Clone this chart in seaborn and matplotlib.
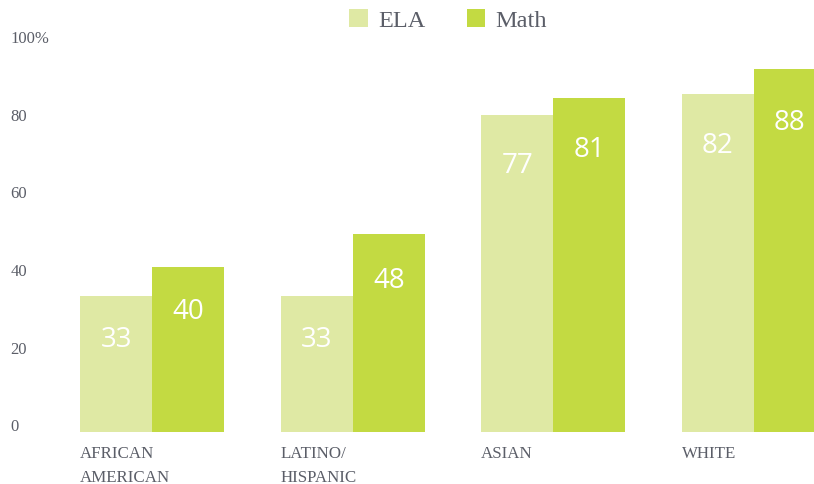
import matplotlib
matplotlib.use("Agg")
import matplotlib.pyplot as plt
import seaborn as sns
import pandas as pd
import numpy as np
from matplotlib.patches import Patch

categories = ["AFRICAN\nAMERICAN", "LATINO/\nHISPANIC", "ASIAN", "WHITE"]
ela = [33, 33, 77, 82]
math_vals = [40, 48, 81, 88]
series = ["ELA", "Math"]
ytick_labels = ["0", "20", "40", "60", "80", "100%"]

c_ela = "#dfe9a4"
c_math = "#c3da42"
grey = "#5b5e68"

df = pd.DataFrame({
    "cat": categories * 2,
    "series": ["ELA"] * 4 + ["Math"] * 4,
    "val": ela + math_vals,
})

sns.set_theme(style="white")
plt.rcParams["font.family"] = ["Liberation Serif", "DejaVu Serif"]

fig = plt.figure(figsize=(8.14, 4.85), dpi=100)
W, H = 814, 485
left_px, right_px, top_px, bottom_px = 70, 814, 21, 433
ax = fig.add_axes([left_px / W, 1 - bottom_px / H, (right_px - left_px) / W, (bottom_px - top_px) / H])

sns.barplot(data=df, x="cat", y="val", hue="series", order=categories,
            hue_order=series, palette=[c_ela, c_math], width=0.72,
            saturation=1, ax=ax, legend=False)

for p in ax.patches:
    p.set_linewidth(0)

ax.set_ylim(0, 100)
ax.set_xlim(-0.41, 3.30)

# value labels
bw = 0.36
for i, (a, b) in enumerate(zip(ela, math_vals)):
    for x, v in ((i - bw / 2, a), (i + bw / 2, b)):
        ax.text(x, 0.958 * v - 9.0, str(v), ha="center", va="center", color="white",
                fontsize=20, family=["Open Sans", "DejaVu Sans"])

# y ticks (labels)
ytick_pos = np.linspace(1.9, 96.1, 6)
ax.set_yticks(ytick_pos)
ax.set_yticklabels(ytick_labels)
ax.tick_params(axis="y", length=0, pad=43, labelsize=12, labelcolor=grey)
for t in ax.get_yticklabels():
    t.set_horizontalalignment("left")

# x ticks (labels left aligned at ELA bar left edge)
ax.set_xticks([i - bw for i in range(len(categories))])
ax.set_xticklabels(categories)
ax.tick_params(axis="x", length=0, pad=9, labelsize=12.2, labelcolor=grey)
for t in ax.get_xticklabels():
    t.set_horizontalalignment("left")
    t.set_verticalalignment("top")
    t.set_linespacing(1.7)

ax.set_xlabel("")
ax.set_ylabel("")
sns.despine(ax=ax, left=True, bottom=True)

handles = [Patch(facecolor=c_ela, edgecolor="none"), Patch(facecolor=c_math, edgecolor="none")]
fig.legend(handles, series, loc="center", bbox_to_anchor=(448 / W, 1 - 21 / H),
           ncol=2, frameon=False, fontsize=17.5, labelcolor=grey,
           handlelength=0.78, handleheight=0.78, handletextpad=0.4, columnspacing=1.7)

fig.savefig("out.png", dpi=100)
